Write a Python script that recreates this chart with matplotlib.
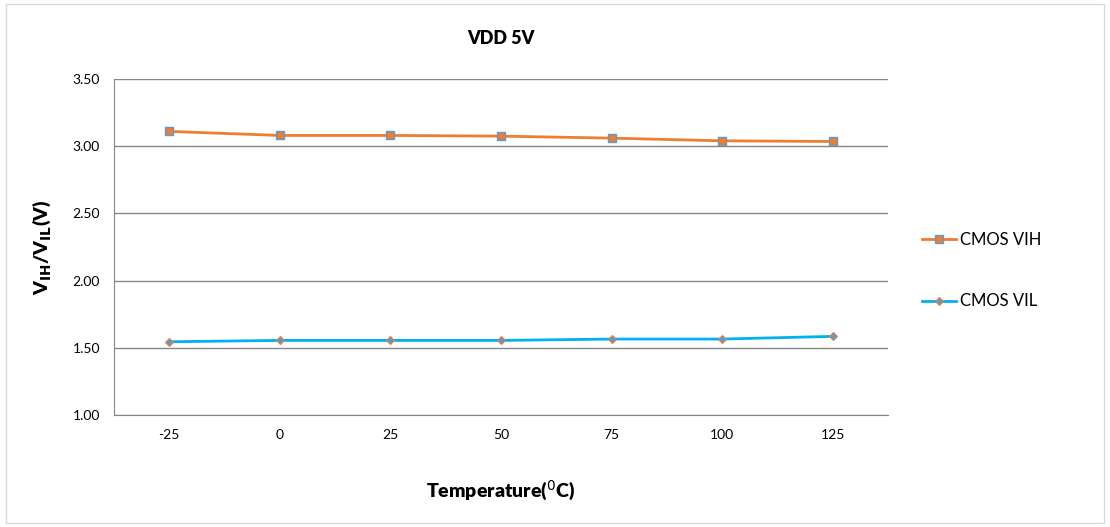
import matplotlib
matplotlib.use("Agg")
import matplotlib.pyplot as plt
from matplotlib.patches import Rectangle

plt.rcParams['font.family'] = ['Lato', 'DejaVu Sans']

temps = ['-25', '0', '25', '50', '75', '100', '125']
vih = [3.11, 3.08, 3.08, 3.075, 3.06, 3.04, 3.035]
vil = [1.545, 1.555, 1.555, 1.555, 1.565, 1.565, 1.585]
yticks = [1.00, 1.50, 2.00, 2.50, 3.00, 3.50]

fig = plt.figure(figsize=(11.10, 5.27), dpi=100)
fig.patches.append(Rectangle((0.005, 0.008), 0.99, 0.984, transform=fig.transFigure,
                             fill=False, edgecolor='#d9d9d9', linewidth=1))
ax = fig.add_axes([114 / 1110, 1 - 415 / 527, (888 - 114) / 1110, (415 - 79) / 527])

x = range(len(temps))
ax.plot(x, vih, color='#ed7d31', linewidth=2, marker='s', markersize=6,
        markerfacecolor='#ed7d31', markeredgecolor='#5b9bd5', markeredgewidth=1,
        label='CMOS VIH')
ax.plot(x, vil, color='#00b0f0', linewidth=2, marker='D', markersize=4.5,
        markerfacecolor='#5b9bd5', markeredgecolor='#ed7d31', markeredgewidth=0.8,
        label='CMOS VIL')

ax.set_xlim(-0.5, len(temps) - 0.5)
ax.set_ylim(1.0, 3.5)
ax.set_xticks(list(x))
ax.set_xticklabels(temps)
ax.set_yticks(yticks)
ax.set_yticklabels(['%.2f' % v for v in yticks])
ax.tick_params(length=0, labelsize=10, pad=10)
ax.grid(axis='y', color='#868686', linewidth=1)
ax.set_axisbelow(True)
for s in ['top', 'right']:
    ax.spines[s].set_visible(False)
ax.spines['left'].set_color('#868686')
ax.spines['bottom'].set_color('#868686')

ax.set_title('VDD 5V', fontsize=13, fontweight='heavy', pad=25)
ax.set_xlabel('Temperature($^0$C)', fontsize=14, fontweight='heavy', labelpad=27)
ax.set_ylabel(r'V$_{\mathbf{IH}}$/V$_{\mathbf{IL}}$(V)', fontsize=14, fontweight='heavy', labelpad=14)

ax.legend(loc='center left', bbox_to_anchor=(1.025, 0.43), frameon=False, fontsize=12,
          labelspacing=2.75, handlelength=2.0, handletextpad=0.25)

fig.savefig('out.png', dpi=100)
